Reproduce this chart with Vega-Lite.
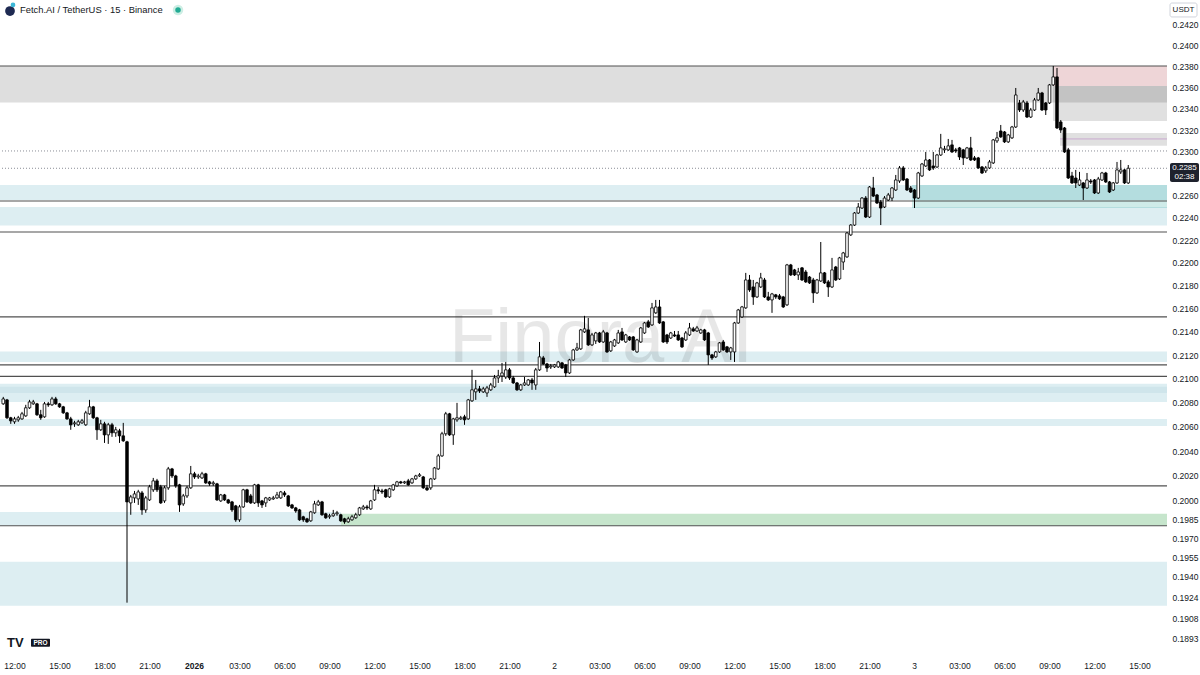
{
"$schema":"https://vega.github.io/schema/vega-lite/v6.json",
"width":1167,"height":652,
"autosize":{"type":"none"},
"padding":{"left":0,"top":0,"right":33,"bottom":23},
"background":"#ffffff",
"config":{"view":{"stroke":null},"font":"Liberation Sans, sans-serif","scale":{"continuousPadding":0},
"axis":{"grid":false,"ticks":false,"domain":false,"labelFont":"Liberation Sans","labelFontSize":8.5,"labelColor":"#131722","title":null}},
"datasets":{"candles":[
{"t":"2025-12-31T11:15","o":0.20792,"h":0.20850,"l":0.20784,"c":0.20833},
{"t":"2025-12-31T11:30","o":0.20825,"h":0.20833,"l":0.20667,"c":0.20676},
{"t":"2025-12-31T11:45","o":0.20676,"h":0.20684,"l":0.20626,"c":0.20651},
{"t":"2025-12-31T12:00","o":0.20643,"h":0.20684,"l":0.20626,"c":0.20667},
{"t":"2025-12-31T12:15","o":0.20659,"h":0.20692,"l":0.20643,"c":0.20676},
{"t":"2025-12-31T12:30","o":0.20667,"h":0.20725,"l":0.20659,"c":0.20709},
{"t":"2025-12-31T12:45","o":0.20692,"h":0.20784,"l":0.20684,"c":0.20759},
{"t":"2025-12-31T13:00","o":0.20759,"h":0.20825,"l":0.20750,"c":0.20808},
{"t":"2025-12-31T13:15","o":0.20792,"h":0.20825,"l":0.20784,"c":0.20808},
{"t":"2025-12-31T13:30","o":0.20792,"h":0.20800,"l":0.20692,"c":0.20701},
{"t":"2025-12-31T13:45","o":0.20701,"h":0.20742,"l":0.20659,"c":0.20676},
{"t":"2025-12-31T14:00","o":0.20684,"h":0.20808,"l":0.20676,"c":0.20792},
{"t":"2025-12-31T14:15","o":0.20792,"h":0.20808,"l":0.20767,"c":0.20784},
{"t":"2025-12-31T14:30","o":0.20784,"h":0.20850,"l":0.20775,"c":0.20833},
{"t":"2025-12-31T14:45","o":0.20833,"h":0.20850,"l":0.20784,"c":0.20792},
{"t":"2025-12-31T15:00","o":0.20792,"h":0.20800,"l":0.20759,"c":0.20767},
{"t":"2025-12-31T15:15","o":0.20767,"h":0.20775,"l":0.20709,"c":0.20717},
{"t":"2025-12-31T15:30","o":0.20717,"h":0.20725,"l":0.20659,"c":0.20667},
{"t":"2025-12-31T15:45","o":0.20667,"h":0.20684,"l":0.20577,"c":0.20618},
{"t":"2025-12-31T16:00","o":0.20626,"h":0.20651,"l":0.20601,"c":0.20634},
{"t":"2025-12-31T16:15","o":0.20618,"h":0.20659,"l":0.20609,"c":0.20643},
{"t":"2025-12-31T16:30","o":0.20634,"h":0.20667,"l":0.20626,"c":0.20651},
{"t":"2025-12-31T16:45","o":0.20618,"h":0.20734,"l":0.20609,"c":0.20717},
{"t":"2025-12-31T17:00","o":0.20709,"h":0.20825,"l":0.20701,"c":0.20767},
{"t":"2025-12-31T17:15","o":0.20767,"h":0.20775,"l":0.20667,"c":0.20676},
{"t":"2025-12-31T17:30","o":0.20676,"h":0.20684,"l":0.20494,"c":0.20577},
{"t":"2025-12-31T17:45","o":0.20577,"h":0.20659,"l":0.20568,"c":0.20626},
{"t":"2025-12-31T18:00","o":0.20626,"h":0.20643,"l":0.20469,"c":0.20535},
{"t":"2025-12-31T18:15","o":0.20535,"h":0.20634,"l":0.20461,"c":0.20618},
{"t":"2025-12-31T18:30","o":0.20618,"h":0.20634,"l":0.20519,"c":0.20552},
{"t":"2025-12-31T18:45","o":0.20552,"h":0.20601,"l":0.20519,"c":0.20577},
{"t":"2025-12-31T19:00","o":0.20568,"h":0.20585,"l":0.20469,"c":0.20527},
{"t":"2025-12-31T19:15","o":0.20527,"h":0.20634,"l":0.20478,"c":0.20486},
{"t":"2025-12-31T19:30","o":0.20478,"h":0.20486,"l":0.19200,"c":0.19991},
{"t":"2025-12-31T19:45","o":0.19983,"h":0.20047,"l":0.19888,"c":0.20031},
{"t":"2025-12-31T20:00","o":0.20023,"h":0.20079,"l":0.19983,"c":0.20055},
{"t":"2025-12-31T20:15","o":0.20015,"h":0.20088,"l":0.19967,"c":0.20071},
{"t":"2025-12-31T20:30","o":0.20063,"h":0.20079,"l":0.19888,"c":0.19927},
{"t":"2025-12-31T20:45","o":0.19927,"h":0.20039,"l":0.19904,"c":0.20023},
{"t":"2025-12-31T21:00","o":0.20007,"h":0.20128,"l":0.19999,"c":0.20112},
{"t":"2025-12-31T21:15","o":0.20088,"h":0.20184,"l":0.20071,"c":0.20160},
{"t":"2025-12-31T21:30","o":0.20160,"h":0.20176,"l":0.20071,"c":0.20088},
{"t":"2025-12-31T21:45","o":0.20112,"h":0.20128,"l":0.19975,"c":0.19983},
{"t":"2025-12-31T22:00","o":0.19999,"h":0.20120,"l":0.19983,"c":0.20104},
{"t":"2025-12-31T22:15","o":0.20104,"h":0.20273,"l":0.20088,"c":0.20257},
{"t":"2025-12-31T22:30","o":0.20257,"h":0.20265,"l":0.20184,"c":0.20200},
{"t":"2025-12-31T22:45","o":0.20200,"h":0.20209,"l":0.20104,"c":0.20120},
{"t":"2025-12-31T23:00","o":0.20128,"h":0.20136,"l":0.19911,"c":0.19967},
{"t":"2025-12-31T23:15","o":0.19975,"h":0.20055,"l":0.19959,"c":0.20039},
{"t":"2025-12-31T23:30","o":0.20039,"h":0.20120,"l":0.20023,"c":0.20104},
{"t":"2025-12-31T23:45","o":0.20104,"h":0.20281,"l":0.20096,"c":0.20217},
{"t":"2026-01-01T00:00","o":0.20217,"h":0.20233,"l":0.20176,"c":0.20192},
{"t":"2026-01-01T00:15","o":0.20192,"h":0.20217,"l":0.20176,"c":0.20200},
{"t":"2026-01-01T00:30","o":0.20184,"h":0.20233,"l":0.20176,"c":0.20217},
{"t":"2026-01-01T00:45","o":0.20217,"h":0.20225,"l":0.20136,"c":0.20144},
{"t":"2026-01-01T01:00","o":0.20152,"h":0.20160,"l":0.20120,"c":0.20136},
{"t":"2026-01-01T01:15","o":0.20136,"h":0.20160,"l":0.20120,"c":0.20144},
{"t":"2026-01-01T01:30","o":0.20136,"h":0.20144,"l":0.19999,"c":0.20007},
{"t":"2026-01-01T01:45","o":0.19999,"h":0.20055,"l":0.19991,"c":0.20047},
{"t":"2026-01-01T02:00","o":0.20047,"h":0.20055,"l":0.19999,"c":0.20007},
{"t":"2026-01-01T02:15","o":0.20007,"h":0.20015,"l":0.19975,"c":0.19983},
{"t":"2026-01-01T02:30","o":0.19991,"h":0.19999,"l":0.19911,"c":0.19927},
{"t":"2026-01-01T02:45","o":0.19959,"h":0.19967,"l":0.19832,"c":0.19848},
{"t":"2026-01-01T03:00","o":0.19848,"h":0.19967,"l":0.19832,"c":0.19951},
{"t":"2026-01-01T03:15","o":0.19951,"h":0.20096,"l":0.19943,"c":0.20088},
{"t":"2026-01-01T03:30","o":0.20088,"h":0.20096,"l":0.19983,"c":0.19991},
{"t":"2026-01-01T03:45","o":0.20039,"h":0.20055,"l":0.19975,"c":0.19983},
{"t":"2026-01-01T04:00","o":0.19983,"h":0.20136,"l":0.19975,"c":0.20128},
{"t":"2026-01-01T04:15","o":0.20128,"h":0.20136,"l":0.19951,"c":0.19983},
{"t":"2026-01-01T04:30","o":0.19999,"h":0.20007,"l":0.19943,"c":0.19967},
{"t":"2026-01-01T04:45","o":0.19983,"h":0.20031,"l":0.19951,"c":0.20023},
{"t":"2026-01-01T05:00","o":0.20007,"h":0.20031,"l":0.19999,"c":0.20023},
{"t":"2026-01-01T05:15","o":0.20015,"h":0.20039,"l":0.20007,"c":0.20023},
{"t":"2026-01-01T05:30","o":0.20023,"h":0.20071,"l":0.20015,"c":0.20047},
{"t":"2026-01-01T05:45","o":0.20023,"h":0.20079,"l":0.20015,"c":0.20071},
{"t":"2026-01-01T06:00","o":0.20063,"h":0.20079,"l":0.20031,"c":0.20047},
{"t":"2026-01-01T06:15","o":0.20039,"h":0.20047,"l":0.19951,"c":0.19959},
{"t":"2026-01-01T06:30","o":0.19967,"h":0.19975,"l":0.19935,"c":0.19943},
{"t":"2026-01-01T06:45","o":0.19943,"h":0.19951,"l":0.19904,"c":0.19919},
{"t":"2026-01-01T07:00","o":0.19927,"h":0.19935,"l":0.19840,"c":0.19848},
{"t":"2026-01-01T07:15","o":0.19872,"h":0.19880,"l":0.19832,"c":0.19848},
{"t":"2026-01-01T07:30","o":0.19856,"h":0.19864,"l":0.19824,"c":0.19832},
{"t":"2026-01-01T07:45","o":0.19840,"h":0.19919,"l":0.19832,"c":0.19911},
{"t":"2026-01-01T08:00","o":0.19904,"h":0.19999,"l":0.19896,"c":0.19975},
{"t":"2026-01-01T08:15","o":0.19967,"h":0.20007,"l":0.19959,"c":0.19991},
{"t":"2026-01-01T08:30","o":0.19991,"h":0.19999,"l":0.19880,"c":0.19888},
{"t":"2026-01-01T08:45","o":0.19896,"h":0.19904,"l":0.19856,"c":0.19864},
{"t":"2026-01-01T09:00","o":0.19872,"h":0.19896,"l":0.19856,"c":0.19880},
{"t":"2026-01-01T09:15","o":0.19880,"h":0.19927,"l":0.19872,"c":0.19896},
{"t":"2026-01-01T09:30","o":0.19896,"h":0.19919,"l":0.19880,"c":0.19904},
{"t":"2026-01-01T09:45","o":0.19888,"h":0.19896,"l":0.19832,"c":0.19840},
{"t":"2026-01-01T10:00","o":0.19856,"h":0.19864,"l":0.19816,"c":0.19832},
{"t":"2026-01-01T10:15","o":0.19832,"h":0.19872,"l":0.19824,"c":0.19856},
{"t":"2026-01-01T10:30","o":0.19848,"h":0.19888,"l":0.19840,"c":0.19872},
{"t":"2026-01-01T10:45","o":0.19864,"h":0.19904,"l":0.19856,"c":0.19888},
{"t":"2026-01-01T11:00","o":0.19888,"h":0.19951,"l":0.19880,"c":0.19943},
{"t":"2026-01-01T11:15","o":0.19935,"h":0.19967,"l":0.19927,"c":0.19951},
{"t":"2026-01-01T11:30","o":0.19951,"h":0.19967,"l":0.19927,"c":0.19943},
{"t":"2026-01-01T11:45","o":0.19935,"h":0.20007,"l":0.19927,"c":0.19999},
{"t":"2026-01-01T12:00","o":0.20007,"h":0.20128,"l":0.19999,"c":0.20088},
{"t":"2026-01-01T12:15","o":0.20088,"h":0.20112,"l":0.20055,"c":0.20079},
{"t":"2026-01-01T12:30","o":0.20079,"h":0.20096,"l":0.20055,"c":0.20071},
{"t":"2026-01-01T12:45","o":0.20088,"h":0.20096,"l":0.20023,"c":0.20031},
{"t":"2026-01-01T13:00","o":0.20031,"h":0.20104,"l":0.20023,"c":0.20096},
{"t":"2026-01-01T13:15","o":0.20088,"h":0.20136,"l":0.20079,"c":0.20128},
{"t":"2026-01-01T13:30","o":0.20120,"h":0.20160,"l":0.20112,"c":0.20152},
{"t":"2026-01-01T13:45","o":0.20152,"h":0.20160,"l":0.20136,"c":0.20144},
{"t":"2026-01-01T14:00","o":0.20144,"h":0.20160,"l":0.20136,"c":0.20152},
{"t":"2026-01-01T14:15","o":0.20160,"h":0.20176,"l":0.20120,"c":0.20128},
{"t":"2026-01-01T14:30","o":0.20144,"h":0.20184,"l":0.20136,"c":0.20176},
{"t":"2026-01-01T14:45","o":0.20176,"h":0.20209,"l":0.20168,"c":0.20200},
{"t":"2026-01-01T15:00","o":0.20200,"h":0.20223,"l":0.20192,"c":0.20209},
{"t":"2026-01-01T15:15","o":0.20192,"h":0.20200,"l":0.20096,"c":0.20104},
{"t":"2026-01-01T15:30","o":0.20104,"h":0.20128,"l":0.20079,"c":0.20088},
{"t":"2026-01-01T15:45","o":0.20104,"h":0.20184,"l":0.20088,"c":0.20176},
{"t":"2026-01-01T16:00","o":0.20176,"h":0.20273,"l":0.20168,"c":0.20265},
{"t":"2026-01-01T16:15","o":0.20257,"h":0.20379,"l":0.20249,"c":0.20363},
{"t":"2026-01-01T16:30","o":0.20363,"h":0.20560,"l":0.20355,"c":0.20544},
{"t":"2026-01-01T16:45","o":0.20544,"h":0.20725,"l":0.20527,"c":0.20709},
{"t":"2026-01-01T17:00","o":0.20709,"h":0.20717,"l":0.20527,"c":0.20535},
{"t":"2026-01-01T17:15","o":0.20535,"h":0.20676,"l":0.20453,"c":0.20667},
{"t":"2026-01-01T17:30","o":0.20659,"h":0.20800,"l":0.20643,"c":0.20676},
{"t":"2026-01-01T17:45","o":0.20667,"h":0.20692,"l":0.20659,"c":0.20676},
{"t":"2026-01-01T18:00","o":0.20684,"h":0.20701,"l":0.20618,"c":0.20659},
{"t":"2026-01-01T18:15","o":0.20667,"h":0.20833,"l":0.20659,"c":0.20825},
{"t":"2026-01-01T18:30","o":0.20817,"h":0.21077,"l":0.20808,"c":0.20909},
{"t":"2026-01-01T18:45","o":0.20892,"h":0.20992,"l":0.20825,"c":0.20917},
{"t":"2026-01-01T19:00","o":0.20917,"h":0.20942,"l":0.20883,"c":0.20900},
{"t":"2026-01-01T19:15","o":0.20892,"h":0.20934,"l":0.20883,"c":0.20917},
{"t":"2026-01-01T19:30","o":0.20883,"h":0.20942,"l":0.20850,"c":0.20925},
{"t":"2026-01-01T19:45","o":0.20909,"h":0.20967,"l":0.20900,"c":0.20950},
{"t":"2026-01-01T20:00","o":0.20934,"h":0.21034,"l":0.20925,"c":0.21009},
{"t":"2026-01-01T20:15","o":0.21009,"h":0.21077,"l":0.20967,"c":0.21026},
{"t":"2026-01-01T20:30","o":0.21026,"h":0.21136,"l":0.20975,"c":0.21051},
{"t":"2026-01-01T20:45","o":0.21017,"h":0.21144,"l":0.21000,"c":0.21077},
{"t":"2026-01-01T21:00","o":0.21077,"h":0.21093,"l":0.20992,"c":0.21009},
{"t":"2026-01-01T21:15","o":0.21009,"h":0.21026,"l":0.20959,"c":0.20967},
{"t":"2026-01-01T21:30","o":0.20967,"h":0.20975,"l":0.20900,"c":0.20909},
{"t":"2026-01-01T21:45","o":0.20909,"h":0.20959,"l":0.20900,"c":0.20950},
{"t":"2026-01-01T22:00","o":0.20950,"h":0.21017,"l":0.20942,"c":0.20967},
{"t":"2026-01-01T22:15","o":0.20950,"h":0.21000,"l":0.20942,"c":0.20992},
{"t":"2026-01-01T22:30","o":0.20992,"h":0.21009,"l":0.20909,"c":0.20967},
{"t":"2026-01-01T22:45","o":0.20950,"h":0.21093,"l":0.20909,"c":0.21077},
{"t":"2026-01-01T23:00","o":0.21077,"h":0.21314,"l":0.21068,"c":0.21187},
{"t":"2026-01-01T23:15","o":0.21178,"h":0.21195,"l":0.21119,"c":0.21127},
{"t":"2026-01-01T23:30","o":0.21127,"h":0.21136,"l":0.21060,"c":0.21093},
{"t":"2026-01-01T23:45","o":0.21102,"h":0.21127,"l":0.21085,"c":0.21110},
{"t":"2026-01-02T00:00","o":0.21102,"h":0.21127,"l":0.21093,"c":0.21119},
{"t":"2026-01-02T00:15","o":0.21102,"h":0.21153,"l":0.21093,"c":0.21144},
{"t":"2026-01-02T00:30","o":0.21136,"h":0.21144,"l":0.21085,"c":0.21093},
{"t":"2026-01-02T00:45","o":0.21119,"h":0.21127,"l":0.21017,"c":0.21051},
{"t":"2026-01-02T01:00","o":0.21051,"h":0.21170,"l":0.21043,"c":0.21161},
{"t":"2026-01-02T01:15","o":0.21161,"h":0.21255,"l":0.21153,"c":0.21246},
{"t":"2026-01-02T01:30","o":0.21246,"h":0.21306,"l":0.21238,"c":0.21263},
{"t":"2026-01-02T01:45","o":0.21255,"h":0.21426,"l":0.21246,"c":0.21417},
{"t":"2026-01-02T02:00","o":0.21400,"h":0.21538,"l":0.21391,"c":0.21426},
{"t":"2026-01-02T02:15","o":0.21417,"h":0.21520,"l":0.21280,"c":0.21289},
{"t":"2026-01-02T02:30","o":0.21289,"h":0.21391,"l":0.21280,"c":0.21374},
{"t":"2026-01-02T02:45","o":0.21323,"h":0.21400,"l":0.21297,"c":0.21391},
{"t":"2026-01-02T03:00","o":0.21391,"h":0.21400,"l":0.21306,"c":0.21314},
{"t":"2026-01-02T03:15","o":0.21314,"h":0.21417,"l":0.21306,"c":0.21400},
{"t":"2026-01-02T03:30","o":0.21391,"h":0.21400,"l":0.21221,"c":0.21229},
{"t":"2026-01-02T03:45","o":0.21238,"h":0.21323,"l":0.21229,"c":0.21314},
{"t":"2026-01-02T04:00","o":0.21280,"h":0.21340,"l":0.21272,"c":0.21331},
{"t":"2026-01-02T04:15","o":0.21306,"h":0.21417,"l":0.21297,"c":0.21391},
{"t":"2026-01-02T04:30","o":0.21400,"h":0.21434,"l":0.21323,"c":0.21331},
{"t":"2026-01-02T04:45","o":0.21314,"h":0.21383,"l":0.21306,"c":0.21374},
{"t":"2026-01-02T05:00","o":0.21357,"h":0.21365,"l":0.21323,"c":0.21331},
{"t":"2026-01-02T05:15","o":0.21357,"h":0.21365,"l":0.21238,"c":0.21246},
{"t":"2026-01-02T05:30","o":0.21229,"h":0.21340,"l":0.21221,"c":0.21331},
{"t":"2026-01-02T05:45","o":0.21314,"h":0.21443,"l":0.21306,"c":0.21434},
{"t":"2026-01-02T06:00","o":0.21391,"h":0.21486,"l":0.21383,"c":0.21477},
{"t":"2026-01-02T06:15","o":0.21486,"h":0.21503,"l":0.21434,"c":0.21443},
{"t":"2026-01-02T06:30","o":0.21460,"h":0.21650,"l":0.21451,"c":0.21607},
{"t":"2026-01-02T06:45","o":0.21564,"h":0.21676,"l":0.21555,"c":0.21615},
{"t":"2026-01-02T07:00","o":0.21615,"h":0.21676,"l":0.21469,"c":0.21477},
{"t":"2026-01-02T07:15","o":0.21486,"h":0.21494,"l":0.21306,"c":0.21314},
{"t":"2026-01-02T07:30","o":0.21374,"h":0.21383,"l":0.21297,"c":0.21314},
{"t":"2026-01-02T07:45","o":0.21348,"h":0.21400,"l":0.21340,"c":0.21391},
{"t":"2026-01-02T08:00","o":0.21374,"h":0.21408,"l":0.21357,"c":0.21365},
{"t":"2026-01-02T08:15","o":0.21374,"h":0.21408,"l":0.21323,"c":0.21331},
{"t":"2026-01-02T08:30","o":0.21348,"h":0.21357,"l":0.21263,"c":0.21272},
{"t":"2026-01-02T08:45","o":0.21331,"h":0.21408,"l":0.21323,"c":0.21391},
{"t":"2026-01-02T09:00","o":0.21374,"h":0.21477,"l":0.21365,"c":0.21434},
{"t":"2026-01-02T09:15","o":0.21426,"h":0.21443,"l":0.21400,"c":0.21408},
{"t":"2026-01-02T09:30","o":0.21408,"h":0.21451,"l":0.21400,"c":0.21434},
{"t":"2026-01-02T09:45","o":0.21391,"h":0.21426,"l":0.21383,"c":0.21417},
{"t":"2026-01-02T10:00","o":0.21417,"h":0.21426,"l":0.21323,"c":0.21331},
{"t":"2026-01-02T10:15","o":0.21391,"h":0.21400,"l":0.21119,"c":0.21204},
{"t":"2026-01-02T10:30","o":0.21204,"h":0.21212,"l":0.21161,"c":0.21178},
{"t":"2026-01-02T10:45","o":0.21187,"h":0.21238,"l":0.21178,"c":0.21229},
{"t":"2026-01-02T11:00","o":0.21229,"h":0.21314,"l":0.21221,"c":0.21306},
{"t":"2026-01-02T11:15","o":0.21314,"h":0.21331,"l":0.21238,"c":0.21246},
{"t":"2026-01-02T11:30","o":0.21272,"h":0.21280,"l":0.21221,"c":0.21229},
{"t":"2026-01-02T11:45","o":0.21229,"h":0.21272,"l":0.21161,"c":0.21263},
{"t":"2026-01-02T12:00","o":0.21229,"h":0.21486,"l":0.21144,"c":0.21477},
{"t":"2026-01-02T12:15","o":0.21477,"h":0.21598,"l":0.21469,"c":0.21589},
{"t":"2026-01-02T12:30","o":0.21529,"h":0.21624,"l":0.21520,"c":0.21615},
{"t":"2026-01-02T12:45","o":0.21607,"h":0.21912,"l":0.21598,"c":0.21850},
{"t":"2026-01-02T13:00","o":0.21850,"h":0.21894,"l":0.21746,"c":0.21763},
{"t":"2026-01-02T13:15","o":0.21789,"h":0.21850,"l":0.21633,"c":0.21702},
{"t":"2026-01-02T13:30","o":0.21702,"h":0.21833,"l":0.21693,"c":0.21824},
{"t":"2026-01-02T13:45","o":0.21789,"h":0.21912,"l":0.21780,"c":0.21868},
{"t":"2026-01-02T14:00","o":0.21850,"h":0.21868,"l":0.21693,"c":0.21702},
{"t":"2026-01-02T14:15","o":0.21702,"h":0.21746,"l":0.21667,"c":0.21676},
{"t":"2026-01-02T14:30","o":0.21676,"h":0.21737,"l":0.21564,"c":0.21728},
{"t":"2026-01-02T14:45","o":0.21720,"h":0.21728,"l":0.21685,"c":0.21702},
{"t":"2026-01-02T15:00","o":0.21711,"h":0.21728,"l":0.21676,"c":0.21685},
{"t":"2026-01-02T15:15","o":0.21702,"h":0.21711,"l":0.21607,"c":0.21615},
{"t":"2026-01-02T15:30","o":0.21633,"h":0.21991,"l":0.21624,"c":0.21982},
{"t":"2026-01-02T15:45","o":0.21982,"h":0.21991,"l":0.21885,"c":0.21894},
{"t":"2026-01-02T16:00","o":0.21938,"h":0.21947,"l":0.21885,"c":0.21894},
{"t":"2026-01-02T16:15","o":0.21894,"h":0.21956,"l":0.21850,"c":0.21920},
{"t":"2026-01-02T16:30","o":0.21956,"h":0.21964,"l":0.21841,"c":0.21850},
{"t":"2026-01-02T16:45","o":0.21920,"h":0.21938,"l":0.21824,"c":0.21833},
{"t":"2026-01-02T17:00","o":0.21876,"h":0.21885,"l":0.21815,"c":0.21824},
{"t":"2026-01-02T17:15","o":0.21850,"h":0.21868,"l":0.21650,"c":0.21737},
{"t":"2026-01-02T17:30","o":0.21737,"h":0.21859,"l":0.21728,"c":0.21850},
{"t":"2026-01-02T17:45","o":0.21841,"h":0.22185,"l":0.21833,"c":0.21912},
{"t":"2026-01-02T18:00","o":0.21912,"h":0.21920,"l":0.21815,"c":0.21824},
{"t":"2026-01-02T18:15","o":0.21833,"h":0.21850,"l":0.21702,"c":0.21789},
{"t":"2026-01-02T18:30","o":0.21789,"h":0.22044,"l":0.21780,"c":0.21938},
{"t":"2026-01-02T18:45","o":0.21964,"h":0.21973,"l":0.21841,"c":0.21850},
{"t":"2026-01-02T19:00","o":0.21859,"h":0.22053,"l":0.21850,"c":0.22044},
{"t":"2026-01-02T19:15","o":0.22008,"h":0.22097,"l":0.21938,"c":0.22088},
{"t":"2026-01-02T19:30","o":0.22053,"h":0.22274,"l":0.22044,"c":0.22265},
{"t":"2026-01-02T19:45","o":0.22248,"h":0.22345,"l":0.22239,"c":0.22336},
{"t":"2026-01-02T20:00","o":0.22336,"h":0.22453,"l":0.22328,"c":0.22444},
{"t":"2026-01-02T20:15","o":0.22444,"h":0.22534,"l":0.22435,"c":0.22498},
{"t":"2026-01-02T20:30","o":0.22489,"h":0.22588,"l":0.22480,"c":0.22579},
{"t":"2026-01-02T20:45","o":0.22579,"h":0.22597,"l":0.22399,"c":0.22408},
{"t":"2026-01-02T21:00","o":0.22408,"h":0.22688,"l":0.22399,"c":0.22679},
{"t":"2026-01-02T21:15","o":0.22670,"h":0.22771,"l":0.22588,"c":0.22597},
{"t":"2026-01-02T21:30","o":0.22607,"h":0.22616,"l":0.22525,"c":0.22534},
{"t":"2026-01-02T21:45","o":0.22543,"h":0.22561,"l":0.22336,"c":0.22489},
{"t":"2026-01-02T22:00","o":0.22498,"h":0.22597,"l":0.22489,"c":0.22579},
{"t":"2026-01-02T22:15","o":0.22561,"h":0.22625,"l":0.22552,"c":0.22607},
{"t":"2026-01-02T22:30","o":0.22579,"h":0.22679,"l":0.22552,"c":0.22670},
{"t":"2026-01-02T22:45","o":0.22652,"h":0.22789,"l":0.22643,"c":0.22743},
{"t":"2026-01-02T23:00","o":0.22734,"h":0.22871,"l":0.22716,"c":0.22853},
{"t":"2026-01-02T23:15","o":0.22853,"h":0.22871,"l":0.22734,"c":0.22743},
{"t":"2026-01-02T23:30","o":0.22752,"h":0.22761,"l":0.22643,"c":0.22652},
{"t":"2026-01-02T23:45","o":0.22670,"h":0.22688,"l":0.22625,"c":0.22634},
{"t":"2026-01-03T00:00","o":0.22652,"h":0.22661,"l":0.22489,"c":0.22579},
{"t":"2026-01-03T00:15","o":0.22579,"h":0.22817,"l":0.22570,"c":0.22807},
{"t":"2026-01-03T00:30","o":0.22780,"h":0.22899,"l":0.22771,"c":0.22889},
{"t":"2026-01-03T00:45","o":0.22871,"h":0.23000,"l":0.22862,"c":0.22926},
{"t":"2026-01-03T01:00","o":0.22926,"h":0.22935,"l":0.22826,"c":0.22835},
{"t":"2026-01-03T01:15","o":0.22871,"h":0.23000,"l":0.22835,"c":0.22853},
{"t":"2026-01-03T01:30","o":0.22862,"h":0.22982,"l":0.22853,"c":0.22972},
{"t":"2026-01-03T01:45","o":0.22972,"h":0.23167,"l":0.22963,"c":0.23037},
{"t":"2026-01-03T02:00","o":0.23019,"h":0.23056,"l":0.22991,"c":0.23028},
{"t":"2026-01-03T02:15","o":0.23019,"h":0.23120,"l":0.23009,"c":0.23056},
{"t":"2026-01-03T02:30","o":0.23065,"h":0.23111,"l":0.22991,"c":0.23000},
{"t":"2026-01-03T02:45","o":0.23019,"h":0.23037,"l":0.22991,"c":0.23009},
{"t":"2026-01-03T03:00","o":0.23037,"h":0.23046,"l":0.22926,"c":0.22954},
{"t":"2026-01-03T03:15","o":0.23019,"h":0.23028,"l":0.22880,"c":0.22945},
{"t":"2026-01-03T03:30","o":0.22945,"h":0.23046,"l":0.22935,"c":0.23037},
{"t":"2026-01-03T03:45","o":0.23037,"h":0.23139,"l":0.22917,"c":0.22926},
{"t":"2026-01-03T04:00","o":0.22945,"h":0.22963,"l":0.22917,"c":0.22926},
{"t":"2026-01-03T04:15","o":0.22945,"h":0.22954,"l":0.22844,"c":0.22853},
{"t":"2026-01-03T04:30","o":0.22862,"h":0.22871,"l":0.22798,"c":0.22807},
{"t":"2026-01-03T04:45","o":0.22826,"h":0.22871,"l":0.22807,"c":0.22853},
{"t":"2026-01-03T05:00","o":0.22853,"h":0.22926,"l":0.22844,"c":0.22908},
{"t":"2026-01-03T05:15","o":0.22899,"h":0.23120,"l":0.22889,"c":0.23111},
{"t":"2026-01-03T05:30","o":0.23102,"h":0.23185,"l":0.23083,"c":0.23130},
{"t":"2026-01-03T05:45","o":0.23194,"h":0.23250,"l":0.23130,"c":0.23139},
{"t":"2026-01-03T06:00","o":0.23185,"h":0.23194,"l":0.23083,"c":0.23093},
{"t":"2026-01-03T06:15","o":0.23093,"h":0.23167,"l":0.23083,"c":0.23157},
{"t":"2026-01-03T06:30","o":0.23130,"h":0.23241,"l":0.23120,"c":0.23231},
{"t":"2026-01-03T06:45","o":0.23231,"h":0.23597,"l":0.23222,"c":0.23531},
{"t":"2026-01-03T07:00","o":0.23456,"h":0.23484,"l":0.23371,"c":0.23390},
{"t":"2026-01-03T07:15","o":0.23390,"h":0.23484,"l":0.23371,"c":0.23465},
{"t":"2026-01-03T07:30","o":0.23456,"h":0.23475,"l":0.23315,"c":0.23324},
{"t":"2026-01-03T07:45","o":0.23324,"h":0.23409,"l":0.23315,"c":0.23390},
{"t":"2026-01-03T08:00","o":0.23390,"h":0.23503,"l":0.23381,"c":0.23484},
{"t":"2026-01-03T08:15","o":0.23484,"h":0.23597,"l":0.23475,"c":0.23550},
{"t":"2026-01-03T08:30","o":0.23550,"h":0.23560,"l":0.23381,"c":0.23390},
{"t":"2026-01-03T08:45","o":0.23456,"h":0.23465,"l":0.23343,"c":0.23390},
{"t":"2026-01-03T09:00","o":0.23456,"h":0.23635,"l":0.23446,"c":0.23626},
{"t":"2026-01-03T09:15","o":0.23626,"h":0.23806,"l":0.23616,"c":0.23702},
{"t":"2026-01-03T09:30","o":0.23702,"h":0.23787,"l":0.23213,"c":0.23222},
{"t":"2026-01-03T09:45","o":0.23278,"h":0.23296,"l":0.23176,"c":0.23204},
{"t":"2026-01-03T10:00","o":0.23222,"h":0.23231,"l":0.22991,"c":0.23000},
{"t":"2026-01-03T10:15","o":0.23019,"h":0.23037,"l":0.22752,"c":0.22761},
{"t":"2026-01-03T10:30","o":0.22780,"h":0.22817,"l":0.22707,"c":0.22716},
{"t":"2026-01-03T10:45","o":0.22761,"h":0.22835,"l":0.22670,"c":0.22716},
{"t":"2026-01-03T11:00","o":0.22697,"h":0.22817,"l":0.22688,"c":0.22743},
{"t":"2026-01-03T11:15","o":0.22716,"h":0.22725,"l":0.22561,"c":0.22670},
{"t":"2026-01-03T11:30","o":0.22670,"h":0.22807,"l":0.22661,"c":0.22743},
{"t":"2026-01-03T11:45","o":0.22734,"h":0.22752,"l":0.22707,"c":0.22725},
{"t":"2026-01-03T12:00","o":0.22743,"h":0.22752,"l":0.22616,"c":0.22625},
{"t":"2026-01-03T12:15","o":0.22625,"h":0.22771,"l":0.22616,"c":0.22752},
{"t":"2026-01-03T12:30","o":0.22743,"h":0.22817,"l":0.22734,"c":0.22807},
{"t":"2026-01-03T12:45","o":0.22807,"h":0.22817,"l":0.22716,"c":0.22725},
{"t":"2026-01-03T13:00","o":0.22725,"h":0.22734,"l":0.22625,"c":0.22634},
{"t":"2026-01-03T13:15","o":0.22652,"h":0.22725,"l":0.22643,"c":0.22716},
{"t":"2026-01-03T13:30","o":0.22716,"h":0.22908,"l":0.22707,"c":0.22835},
{"t":"2026-01-03T13:45","o":0.22817,"h":0.22926,"l":0.22798,"c":0.22835},
{"t":"2026-01-03T14:00","o":0.22835,"h":0.22844,"l":0.22707,"c":0.22716},
{"t":"2026-01-03T14:15","o":0.22716,"h":0.22880,"l":0.22707,"c":0.22850}
]},
"layer":[
{"data":{"values":[
{"lo":0.23461,"hi":0.23806,"kind":"range"},
{"lo":0.22561,"hi":0.22697,"kind":"zone"},
{"lo":0.22332,"hi":0.22498,"kind":"zone"},
{"lo":0.21144,"hi":0.21233,"kind":"zone"},
{"lo":0.20808,"hi":0.20959,"kind":"zone"},
{"lo":0.20883,"hi":0.20934,"kind":"zone2"},
{"lo":0.20609,"hi":0.20667,"kind":"zone"},
{"lo":0.19177,"hi":0.19518,"kind":"zone"}]},
"mark":{"type":"rect"},
"encoding":{
"y":{"field":"lo","type":"quantitative","title":null,"scale":{"type":"log","domain":[0.188242,0.244436],"nice":false,"zero":false,"padding":0},
"axis":{"orient":"right","title":null,"values":[0.2420,0.2400,0.2380,0.2360,0.2340,0.2320,0.2300,0.2260,0.2240,0.2220,0.2200,0.2180,0.2160,0.2140,0.2120,0.2100,0.2080,0.2060,0.2040,0.2020,0.2000,0.1985,0.1970,0.1955,0.1940,0.1924,0.1908,0.1893],"format":".4f","labelPadding":5}},
"y2":{"field":"hi"},
"color":{"field":"kind","type":"nominal","scale":{"domain":["range","zone","zone2","demand","stop"],"range":["#dedede","#ddeef2","#cfe5eb","#c6e5cc","#eed5d7"]},"legend":null}}},
{"data":{"values":[
{"lo":0.19801,"hi":0.19911,"start":"2025-12-31T11:02","end":"2026-01-01T09:46","kind":"zone"},
{"lo":0.19801,"hi":0.19896,"start":"2026-01-01T09:46","end":"2026-01-03T16:50","kind":"demand"},
{"lo":0.23616,"hi":0.23806,"start":"2026-01-03T09:14","end":"2026-01-03T16:50","kind":"stop"}]},
"mark":{"type":"rect"},
"encoding":{
"x":{"field":"start","type":"temporal","title":null,"scale":{"domain":[{"year":2025,"month":"dec","date":31,"hours":11,"minutes":2},{"year":2026,"month":"jan","date":3,"hours":16,"minutes":50}],"nice":false,"padding":0},
"axis":{"orient":"bottom","title":null,"values":[
{"year":2025,"month":"dec","date":31,"hours":12},{"year":2025,"month":"dec","date":31,"hours":15},{"year":2025,"month":"dec","date":31,"hours":18},{"year":2025,"month":"dec","date":31,"hours":21},
{"year":2026,"month":"jan","date":1,"hours":3},{"year":2026,"month":"jan","date":1,"hours":6},{"year":2026,"month":"jan","date":1,"hours":9},{"year":2026,"month":"jan","date":1,"hours":12},{"year":2026,"month":"jan","date":1,"hours":15},{"year":2026,"month":"jan","date":1,"hours":18},{"year":2026,"month":"jan","date":1,"hours":21},
{"year":2026,"month":"jan","date":2,"hours":3},{"year":2026,"month":"jan","date":2,"hours":6},{"year":2026,"month":"jan","date":2,"hours":9},{"year":2026,"month":"jan","date":2,"hours":12},{"year":2026,"month":"jan","date":2,"hours":15},{"year":2026,"month":"jan","date":2,"hours":18},{"year":2026,"month":"jan","date":2,"hours":21},
{"year":2026,"month":"jan","date":3,"hours":3},{"year":2026,"month":"jan","date":3,"hours":6},{"year":2026,"month":"jan","date":3,"hours":9},{"year":2026,"month":"jan","date":3,"hours":12},{"year":2026,"month":"jan","date":3,"hours":15}],
"format":"%H:%M","labelPadding":9}},
"x2":{"field":"end"},
"y":{"field":"lo","type":"quantitative","title":null,"scale":{"type":"log","domain":[0.188242,0.244436],"nice":false,"zero":false,"padding":0}},
"y2":{"field":"hi"},
"color":{"field":"kind","type":"nominal","scale":{"domain":["range","zone","zone2","demand","stop"],"range":["#dedede","#ddeef2","#cfe5eb","#c6e5cc","#eed5d7"]},"legend":null}}},
{"data":{"values":[
{"lo":0.23287,"hi":0.23616,"start":"2026-01-03T09:14","end":"2026-01-03T16:50"},
{"lo":0.23056,"hi":0.23176,"start":"2026-01-03T09:42","end":"2026-01-03T16:50"}]},
"mark":{"type":"rect","color":"#000000","opacity":0.12},
"encoding":{
"x":{"field":"start","type":"temporal","title":null,"scale":{"domain":[{"year":2025,"month":"dec","date":31,"hours":11,"minutes":2},{"year":2026,"month":"jan","date":3,"hours":16,"minutes":50}],"nice":false,"padding":0}},
"x2":{"field":"end"},
"y":{"field":"lo","type":"quantitative","title":null,"scale":{"type":"log","domain":[0.188242,0.244436],"nice":false,"zero":false,"padding":0}},
"y2":{"field":"hi"}}},
{"data":{"values":[
{"lo":0.22489,"hi":0.22697,"start":"2026-01-02T23:50","end":"2026-01-03T16:50"}]},
"mark":{"type":"rect","color":"#26a69a","opacity":0.22},
"encoding":{
"x":{"field":"start","type":"temporal","title":null,"scale":{"domain":[{"year":2025,"month":"dec","date":31,"hours":11,"minutes":2},{"year":2026,"month":"jan","date":3,"hours":16,"minutes":50}],"nice":false,"padding":0}},
"x2":{"field":"end"},
"y":{"field":"lo","type":"quantitative","title":null,"scale":{"type":"log","domain":[0.188242,0.244436],"nice":false,"zero":false,"padding":0}},
"y2":{"field":"hi"}}},
{"data":{"values":[
{"p":0.23120,"start":"2026-01-03T09:42","end":"2026-01-03T16:50"}]},
"mark":{"type":"rule","color":"#c9a9cf","strokeWidth":1},
"encoding":{
"x":{"field":"start","type":"temporal","title":null,"scale":{"domain":[{"year":2025,"month":"dec","date":31,"hours":11,"minutes":2},{"year":2026,"month":"jan","date":3,"hours":16,"minutes":50}],"nice":false,"padding":0}},
"x2":{"field":"end"},
"y":{"field":"p","type":"quantitative","title":null,"scale":{"type":"log","domain":[0.188242,0.244436],"nice":false,"zero":false,"padding":0}}}},
{"data":{"values":[{"p":0.23806},{"p":0.22552},{"p":0.22274},{"p":0.21529},{"p":0.21119},{"p":0.21022},{"p":0.20120},{"p":0.19801}]},
"mark":{"type":"rule","color":"#505050","strokeWidth":1.1},
"encoding":{"y":{"field":"p","type":"quantitative","title":null,"scale":{"type":"log","domain":[0.188242,0.244436],"nice":false,"zero":false,"padding":0}}}},
{"data":{"values":[{"p":0.23009},{"p":0.2285}]},
"mark":{"type":"rule","color":"#8a8d96","strokeWidth":1,"strokeDash":[1,2]},
"encoding":{"y":{"field":"p","type":"quantitative","title":null,"scale":{"type":"log","domain":[0.188242,0.244436],"nice":false,"zero":false,"padding":0}}}},
{"data":{"values":[{"label":"Finora AI","p":0.21144,"t":"2026-01-02T03:06"}]},
"mark":{"type":"text","font":"Liberation Sans","fontSize":76,"color":"#000000","opacity":0.09,"align":"center","baseline":"alphabetic"},
"encoding":{
"x":{"field":"t","type":"temporal","title":null,"scale":{"domain":[{"year":2025,"month":"dec","date":31,"hours":11,"minutes":2},{"year":2026,"month":"jan","date":3,"hours":16,"minutes":50}],"nice":false,"padding":0}},
"y":{"field":"p","type":"quantitative","title":null,"scale":{"type":"log","domain":[0.188242,0.244436],"nice":false,"zero":false,"padding":0}},
"text":{"field":"label"}}},
{"data":{"name":"candles"},
"mark":{"type":"rule","color":"#000000","strokeWidth":1},
"encoding":{
"x":{"field":"t","type":"temporal","title":null,"scale":{"domain":[{"year":2025,"month":"dec","date":31,"hours":11,"minutes":2},{"year":2026,"month":"jan","date":3,"hours":16,"minutes":50}],"nice":false,"padding":0}},
"y":{"field":"l","type":"quantitative","title":null,"scale":{"type":"log","domain":[0.188242,0.244436],"nice":false,"zero":false,"padding":0}},
"y2":{"field":"h"}}},
{"data":{"name":"candles"},
"mark":{"type":"bar","orient":"vertical","size":2.6,"stroke":"#000000","strokeWidth":0.8},
"encoding":{
"x":{"field":"t","type":"temporal","title":null,"scale":{"domain":[{"year":2025,"month":"dec","date":31,"hours":11,"minutes":2},{"year":2026,"month":"jan","date":3,"hours":16,"minutes":50}],"nice":false,"padding":0}},
"y":{"field":"o","type":"quantitative","title":null,"scale":{"type":"log","domain":[0.188242,0.244436],"nice":false,"zero":false,"padding":0}},
"y2":{"field":"c"},
"fill":{"condition":{"test":"datum.c >= datum.o","value":"#ffffff"},"value":"#000000"}}},
{"data":{"values":[
{"t1":"2026-01-03T17:02","t2":"2026-01-03T18:58","lo":0.22725,"hi":0.22899}]},
"mark":{"type":"rect","cornerRadius":2,"color":"#1e222d"},
"encoding":{
"x":{"field":"t1","type":"temporal","title":null,"scale":{"domain":[{"year":2025,"month":"dec","date":31,"hours":11,"minutes":2},{"year":2026,"month":"jan","date":3,"hours":16,"minutes":50}],"nice":false,"padding":0}},
"x2":{"field":"t2"},
"y":{"field":"lo","type":"quantitative","title":null,"scale":{"type":"log","domain":[0.188242,0.244436],"nice":false,"zero":false,"padding":0}},
"y2":{"field":"hi"}}},
{"data":{"values":[
{"t1":"2026-01-03T17:02","t2":"2026-01-03T18:50","lo":0.24278,"hi":0.24414}]},
"mark":{"type":"rect","cornerRadius":2,"fill":"#ffffff","stroke":"#d1d4dc","strokeWidth":1},
"encoding":{
"x":{"field":"t1","type":"temporal","title":null,"scale":{"domain":[{"year":2025,"month":"dec","date":31,"hours":11,"minutes":2},{"year":2026,"month":"jan","date":3,"hours":16,"minutes":50}],"nice":false,"padding":0}},
"x2":{"field":"t2"},
"y":{"field":"lo","type":"quantitative","title":null,"scale":{"type":"log","domain":[0.188242,0.244436],"nice":false,"zero":false,"padding":0}},
"y2":{"field":"hi"}}},
{"data":{"values":[
{"t1":"2025-12-31T13:06","t2":"2025-12-31T14:22","lo":0.18864,"hi":0.18925}]},
"mark":{"type":"rect","cornerRadius":1,"color":"#131722"},
"encoding":{
"x":{"field":"t1","type":"temporal","title":null,"scale":{"domain":[{"year":2025,"month":"dec","date":31,"hours":11,"minutes":2},{"year":2026,"month":"jan","date":3,"hours":16,"minutes":50}],"nice":false,"padding":0}},
"x2":{"field":"t2"},
"y":{"field":"lo","type":"quantitative","title":null,"scale":{"type":"log","domain":[0.188242,0.244436],"nice":false,"zero":false,"padding":0}},
"y2":{"field":"hi"}}},
{"data":{"values":[
{"label":"0.2285","p":0.22853,"t":"2026-01-03T18:00"},
{"label":"02:38","p":0.22771,"t":"2026-01-03T18:00"}]},
"mark":{"type":"text","align":"center","baseline":"middle","font":"Liberation Sans","fontSize":8,"color":"#ffffff"},
"encoding":{
"x":{"field":"t","type":"temporal","title":null,"scale":{"domain":[{"year":2025,"month":"dec","date":31,"hours":11,"minutes":2},{"year":2026,"month":"jan","date":3,"hours":16,"minutes":50}],"nice":false,"padding":0}},
"y":{"field":"p","type":"quantitative","title":null,"scale":{"type":"log","domain":[0.188242,0.244436],"nice":false,"zero":false,"padding":0}},
"text":{"field":"label"}}},
{"data":{"values":[
{"label":"USDT","p":0.24346,"t":"2026-01-03T17:56"}]},
"mark":{"type":"text","align":"center","baseline":"middle","font":"Liberation Sans","fontSize":8,"color":"#131722"},
"encoding":{
"x":{"field":"t","type":"temporal","title":null,"scale":{"domain":[{"year":2025,"month":"dec","date":31,"hours":11,"minutes":2},{"year":2026,"month":"jan","date":3,"hours":16,"minutes":50}],"nice":false,"padding":0}},
"y":{"field":"p","type":"quantitative","title":null,"scale":{"type":"log","domain":[0.188242,0.244436],"nice":false,"zero":false,"padding":0}},
"text":{"field":"label"}}},
{"data":{"values":[
{"label":"2026","p":0.18719,"t":"2026-01-01T00:00"}]},
"mark":{"type":"text","align":"center","baseline":"middle","font":"Liberation Sans","fontSize":8.5,"fontWeight":"bold","color":"#131722"},
"encoding":{
"x":{"field":"t","type":"temporal","title":null,"scale":{"domain":[{"year":2025,"month":"dec","date":31,"hours":11,"minutes":2},{"year":2026,"month":"jan","date":3,"hours":16,"minutes":50}],"nice":false,"padding":0}},
"y":{"field":"p","type":"quantitative","title":null,"scale":{"type":"log","domain":[0.188242,0.244436],"nice":false,"zero":false,"padding":0}},
"text":{"field":"label"}}},
{"data":{"values":[
{"label":"2","p":0.18719,"t":"2026-01-02T00:00"},
{"label":"3","p":0.18719,"t":"2026-01-03T00:00"}]},
"mark":{"type":"text","align":"center","baseline":"middle","font":"Liberation Sans","fontSize":8.5,"color":"#131722"},
"encoding":{
"x":{"field":"t","type":"temporal","title":null,"scale":{"domain":[{"year":2025,"month":"dec","date":31,"hours":11,"minutes":2},{"year":2026,"month":"jan","date":3,"hours":16,"minutes":50}],"nice":false,"padding":0}},
"y":{"field":"p","type":"quantitative","title":null,"scale":{"type":"log","domain":[0.188242,0.244436],"nice":false,"zero":false,"padding":0}},
"text":{"field":"label"}}},
{"data":{"values":[
{"label":"Fetch.AI / TetherUS · 15 · Binance","p":0.24346,"t":"2025-12-31T12:22"}]},
"mark":{"type":"text","align":"left","baseline":"middle","font":"Liberation Sans","fontSize":9.4,"color":"#131722"},
"encoding":{
"x":{"field":"t","type":"temporal","title":null,"scale":{"domain":[{"year":2025,"month":"dec","date":31,"hours":11,"minutes":2},{"year":2026,"month":"jan","date":3,"hours":16,"minutes":50}],"nice":false,"padding":0}},
"y":{"field":"p","type":"quantitative","title":null,"scale":{"type":"log","domain":[0.188242,0.244436],"nice":false,"zero":false,"padding":0}},
"text":{"field":"label"}}},
{"data":{"values":[
{"label":"TV","p":0.18894,"t":"2025-12-31T11:30"}]},
"mark":{"type":"text","align":"left","baseline":"middle","font":"Liberation Sans","fontSize":13,"fontWeight":"bold","color":"#131722"},
"encoding":{
"x":{"field":"t","type":"temporal","title":null,"scale":{"domain":[{"year":2025,"month":"dec","date":31,"hours":11,"minutes":2},{"year":2026,"month":"jan","date":3,"hours":16,"minutes":50}],"nice":false,"padding":0}},
"y":{"field":"p","type":"quantitative","title":null,"scale":{"type":"log","domain":[0.188242,0.244436],"nice":false,"zero":false,"padding":0}},
"text":{"field":"label"}}},
{"data":{"values":[
{"label":"PRO","p":0.18894,"t":"2025-12-31T13:44"}]},
"mark":{"type":"text","align":"center","baseline":"middle","font":"Liberation Sans","fontSize":6.5,"fontWeight":"bold","color":"#ffffff"},
"encoding":{
"x":{"field":"t","type":"temporal","title":null,"scale":{"domain":[{"year":2025,"month":"dec","date":31,"hours":11,"minutes":2},{"year":2026,"month":"jan","date":3,"hours":16,"minutes":50}],"nice":false,"padding":0}},
"y":{"field":"p","type":"quantitative","title":null,"scale":{"type":"log","domain":[0.188242,0.244436],"nice":false,"zero":false,"padding":0}},
"text":{"field":"label"}}},
{"data":{"values":[{"t":"2025-12-31T11:42","p":0.24336}]},
"mark":{"type":"point","filled":true,"opacity":1,"color":"#1e2a52","size":95},
"encoding":{
"x":{"field":"t","type":"temporal","title":null,"scale":{"domain":[{"year":2025,"month":"dec","date":31,"hours":11,"minutes":2},{"year":2026,"month":"jan","date":3,"hours":16,"minutes":50}],"nice":false,"padding":0}},
"y":{"field":"p","type":"quantitative","title":null,"scale":{"type":"log","domain":[0.188242,0.244436],"nice":false,"zero":false,"padding":0}}}},
{"data":{"values":[{"t":"2025-12-31T11:54","p":0.24395}]},
"mark":{"type":"point","filled":true,"opacity":1,"color":"#3cb7d8","size":22},
"encoding":{
"x":{"field":"t","type":"temporal","title":null,"scale":{"domain":[{"year":2025,"month":"dec","date":31,"hours":11,"minutes":2},{"year":2026,"month":"jan","date":3,"hours":16,"minutes":50}],"nice":false,"padding":0}},
"y":{"field":"p","type":"quantitative","title":null,"scale":{"type":"log","domain":[0.188242,0.244436],"nice":false,"zero":false,"padding":0}}}},
{"data":{"values":[{"t":"2025-12-31T22:54","p":0.24346}]},
"mark":{"type":"point","filled":true,"opacity":1,"color":"#cdeee4","size":110},
"encoding":{
"x":{"field":"t","type":"temporal","title":null,"scale":{"domain":[{"year":2025,"month":"dec","date":31,"hours":11,"minutes":2},{"year":2026,"month":"jan","date":3,"hours":16,"minutes":50}],"nice":false,"padding":0}},
"y":{"field":"p","type":"quantitative","title":null,"scale":{"type":"log","domain":[0.188242,0.244436],"nice":false,"zero":false,"padding":0}}}},
{"data":{"values":[{"t":"2025-12-31T22:54","p":0.24346}]},
"mark":{"type":"point","filled":true,"opacity":1,"color":"#22ab94","size":30},
"encoding":{
"x":{"field":"t","type":"temporal","title":null,"scale":{"domain":[{"year":2025,"month":"dec","date":31,"hours":11,"minutes":2},{"year":2026,"month":"jan","date":3,"hours":16,"minutes":50}],"nice":false,"padding":0}},
"y":{"field":"p","type":"quantitative","title":null,"scale":{"type":"log","domain":[0.188242,0.244436],"nice":false,"zero":false,"padding":0}}}}
]
}
